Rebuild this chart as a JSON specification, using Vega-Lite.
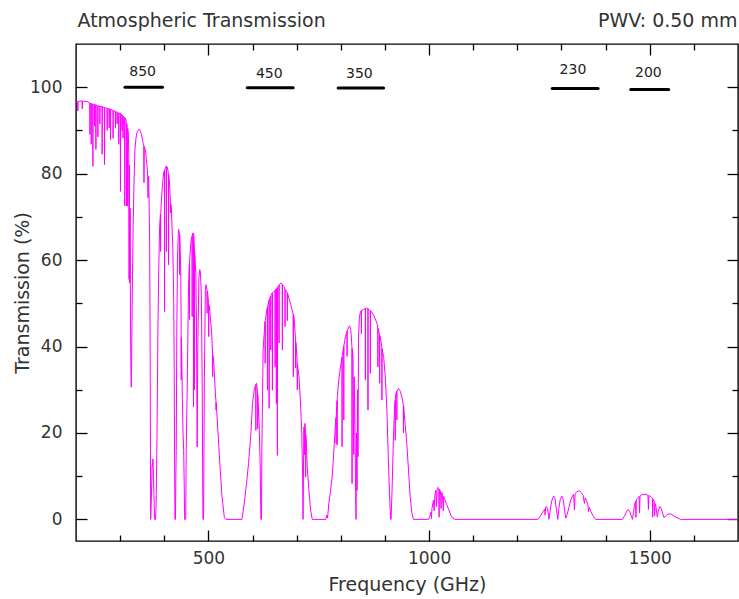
{
  "$schema": "https://vega.github.io/schema/vega-lite/v6.json",
  "width": 662,
  "height": 497,
  "autosize": "none",
  "padding": {"left": 76, "top": 44, "right": 1, "bottom": 58},
  "background": "white",
  "config": {
    "view": {"stroke": "#000", "strokeWidth": 1.4},
    "axis": {
      "domain": false, "grid": false,
      "labelFont": "DejaVu Sans", "labelFontSize": 17, "labelColor": "#333",
      "titleFont": "DejaVu Sans", "titleFontSize": 19, "titleFontWeight": "normal", "titleColor": "#333",
      "tickColor": "#000", "tickWidth": 1.3
    }
  },
  "datasets": {
    "spec": [
      {"f":200,"t":96.5},{"f":203,"t":96.7},{"f":203.8,"t":96.7},{"f":204.2,"t":94.5},{"f":204.6,"t":96.7},{"f":209,"t":96.8},
      {"f":213.6,"t":96.8},{"f":214.2,"t":95.0},{"f":214.8,"t":96.8},{"f":225,"t":96.7},
      {"f":231.2,"t":96.3},{"f":231.6,"t":89.1},{"f":232,"t":96.3},
      {"f":234.1,"t":96.2},{"f":234.5,"t":86.8},{"f":234.9,"t":96.2},
      {"f":237.9,"t":96.1},{"f":238.3,"t":81.7},{"f":238.7,"t":96.1},
      {"f":241.8,"t":96.0},{"f":242.2,"t":91.0},{"f":242.6,"t":96.0},
      {"f":244.7,"t":95.9},{"f":245.1,"t":85.6},{"f":245.5,"t":95.9},
      {"f":249.2,"t":95.7},{"f":249.6,"t":88.5},{"f":250,"t":95.7},
      {"f":253.7,"t":95.6},{"f":254.1,"t":91.5},{"f":254.5,"t":95.6},
      {"f":258.9,"t":95.5},{"f":259.3,"t":84.5},{"f":259.7,"t":95.5},
      {"f":264.3,"t":95.3},{"f":264.7,"t":82.1},{"f":265.1,"t":95.3},
      {"f":270.2,"t":95.1},{"f":270.6,"t":90.0},{"f":271,"t":95.1},
      {"f":274.7,"t":95.0},{"f":275.1,"t":90.6},{"f":275.5,"t":95.0},
      {"f":277.9,"t":94.9},{"f":278.3,"t":87.9},{"f":278.7,"t":94.9},
      {"f":283.7,"t":94.6},{"f":284.1,"t":88.2},{"f":284.5,"t":94.6},
      {"f":289.1,"t":94.4},{"f":289.5,"t":90.5},{"f":289.9,"t":94.4},
      {"f":292.8,"t":94.2},{"f":293.2,"t":91.5},{"f":293.6,"t":94.2},
      {"f":296.6,"t":94.0},{"f":297,"t":86.8},{"f":297.4,"t":94.0},
      {"f":300.4,"t":93.9},{"f":300.8,"t":75.9},{"f":301.2,"t":93.9},
      {"f":304,"t":93.6},{"f":304.4,"t":90.0},{"f":304.8,"t":93.6},
      {"f":306.3,"t":93.3},{"f":306.7,"t":88.2},{"f":307.1,"t":93.3},
      {"f":310,"t":93.0},{"f":310.5,"t":72.5},{"f":311,"t":92.9},{"f":312.1,"t":92.8},
      {"f":314,"t":92.0},{"f":314.4,"t":72.5},{"f":314.8,"t":91.6},{"f":316,"t":91.2},
      {"f":316.6,"t":72.5},{"f":317.2,"t":90.5},{"f":318.5,"t":89.5},{"f":319.5,"t":85.0},
      {"f":320.3,"t":55.5},{"f":321,"t":82.0},{"f":321.8,"t":54.7},{"f":322.6,"t":72.0},
      {"f":323.5,"t":45.0},{"f":324.3,"t":36.0},{"f":325.2,"t":30.6},{"f":326,"t":36.0},
      {"f":327.5,"t":52.0},{"f":329.5,"t":68.0},{"f":331.5,"t":78.0},{"f":333.5,"t":85.5},
      {"f":336,"t":88.3},{"f":339,"t":89.8},{"f":343,"t":90.3},{"f":346,"t":89.8},
      {"f":348.2,"t":89.1},{"f":351.8,"t":87.2},{"f":353.6,"t":86.5},{"f":354.1,"t":77.9},
      {"f":354.6,"t":86.3},{"f":357.2,"t":85.6},{"f":359.5,"t":83.3},{"f":361.7,"t":81.0},
      {"f":362.6,"t":79.0},{"f":363.1,"t":74.4},{"f":363.6,"t":79.5},{"f":364.7,"t":79.4},
      {"f":365.8,"t":72.0},{"f":366.9,"t":64.0},{"f":368,"t":40.0},{"f":369.2,"t":0},
      {"f":370.5,"t":4},{"f":372.5,"t":12},{"f":374.5,"t":14},{"f":376.5,"t":6},
      {"f":378.2,"t":0},{"f":380.2,"t":0},{"f":381.5,"t":3},{"f":383.4,"t":18.3},
      {"f":384.5,"t":30},{"f":385.6,"t":43.8},{"f":387.5,"t":58},{"f":389.5,"t":67.8},
      {"f":391.3,"t":70.5},{"f":391.7,"t":62},{"f":392.1,"t":71},{"f":393.3,"t":73.3},
      {"f":395,"t":76},{"f":396.9,"t":78.6},{"f":398.8,"t":80.2},{"f":400.4,"t":80.8},
      {"f":400.7,"t":48.1},{"f":401,"t":80.9},{"f":402.5,"t":81.3},{"f":404.6,"t":81.7},
      {"f":404.9,"t":62},{"f":405.2,"t":81.7},{"f":407,"t":81.5},{"f":409.5,"t":80.0},
      {"f":409.8,"t":58.9},{"f":410.1,"t":79.8},{"f":412,"t":77.5},{"f":414,"t":73.5},
      {"f":414.3,"t":70.9},{"f":414.6,"t":73},{"f":415.9,"t":72.5},{"f":417.5,"t":68},
      {"f":419.5,"t":62.4},{"f":421.5,"t":50},{"f":422.5,"t":35},{"f":423.3,"t":15},
      {"f":424.2,"t":0},{"f":425.3,"t":0},{"f":426.2,"t":10},{"f":427.1,"t":16},
      {"f":428.5,"t":45},{"f":430,"t":60},{"f":431.5,"t":65.5},{"f":432.5,"t":67.1},
      {"f":434.2,"t":66.2},{"f":434.6,"t":56.6},{"f":435,"t":65.8},{"f":436.5,"t":60.5},
      {"f":437.5,"t":56.2},{"f":438.2,"t":45},{"f":438.4,"t":32.3},{"f":438.8,"t":42},
      {"f":439.4,"t":39.2},{"f":441,"t":28},{"f":442.5,"t":20},{"f":444,"t":16},
      {"f":445.2,"t":8},{"f":446.2,"t":0},{"f":448.6,"t":0},{"f":449.7,"t":16},
      {"f":452,"t":30.7},{"f":455,"t":53.9},{"f":456.8,"t":59},{"f":457.1,"t":46.2},
      {"f":457.4,"t":59.5},{"f":458.5,"t":61.6},{"f":461,"t":64.7},{"f":462.9,"t":65.5},
      {"f":463.2,"t":46.9},{"f":463.5,"t":65.6},{"f":464.6,"t":66.3},{"f":466,"t":66.1},
      {"f":466.2,"t":26},{"f":466.5,"t":66},{"f":468.2,"t":63},{"f":468.5,"t":30},
      {"f":468.8,"t":62},{"f":471.5,"t":57},{"f":473,"t":45},{"f":474.5,"t":16.8},
      {"f":476,"t":40},{"f":478.5,"t":56},{"f":480.5,"t":57.8},{"f":482,"t":57},
      {"f":484,"t":52},{"f":486,"t":30.7},{"f":487,"t":10},{"f":487.6,"t":0},
      {"f":489,"t":0},{"f":490.9,"t":33},{"f":493.2,"t":53.9},{"f":494.8,"t":54.3},
      {"f":496.8,"t":53},{"f":497.1,"t":47.7},{"f":497.4,"t":52.8},{"f":498.4,"t":52.4},
      {"f":500.4,"t":50},{"f":500.7,"t":42.3},{"f":501,"t":49.6},{"f":502.2,"t":49.3},
      {"f":507.4,"t":43.1},{"f":509.4,"t":38.5},{"f":509.7,"t":33},{"f":510,"t":38},
      {"f":511.9,"t":36.9},{"f":515.8,"t":29.2},{"f":517.1,"t":27.5},{"f":517.4,"t":25.3},
      {"f":517.7,"t":27},{"f":521,"t":21.4},{"f":526.4,"t":12.1},{"f":530.9,"t":5.2},
      {"f":536.1,"t":0.5},{"f":539.9,"t":0},{"f":576,"t":0},{"f":581.2,"t":3.6},
      {"f":586.4,"t":8.3},{"f":590.9,"t":12.9},{"f":596.3,"t":19.9},{"f":599.9,"t":26.8},
      {"f":603.8,"t":29.9},{"f":607.3,"t":31.2},{"f":607.6,"t":20.6},{"f":607.9,"t":31.3},
      {"f":609,"t":31.5},{"f":611.3,"t":29.5},{"f":611.6,"t":21},{"f":611.9,"t":28.8},
      {"f":612.8,"t":26.8},{"f":615,"t":22},{"f":617.3,"t":13},{"f":618.9,"t":0},
      {"f":620.3,"t":0},{"f":621.1,"t":16},{"f":624,"t":39.2},{"f":627.9,"t":45.4},
      {"f":628.4,"t":45.8},{"f":628.6,"t":36.1},{"f":628.9,"t":46},{"f":632.4,"t":48.5},
      {"f":633.5,"t":49},{"f":633.8,"t":29.9},{"f":634.1,"t":49.1},{"f":637.3,"t":50.7},
      {"f":637.6,"t":25.7},{"f":637.9,"t":50.8},{"f":641.1,"t":51.7},{"f":641.4,"t":39.2},
      {"f":641.7,"t":51.8},{"f":644.7,"t":52.4},{"f":645,"t":29.9},{"f":645.3,"t":52.4},
      {"f":650.8,"t":53.0},{"f":651.1,"t":35.3},{"f":651.4,"t":53.0},{"f":652.7,"t":53.1},
      {"f":653.7,"t":53.3},{"f":654,"t":26.8},{"f":654.3,"t":53.4},{"f":656,"t":53.6},
      {"f":656.3,"t":14.8},{"f":656.6,"t":53.7},{"f":659.8,"t":54.2},{"f":660.1,"t":40.8},
      {"f":660.4,"t":54.3},{"f":664,"t":54.7},{"f":667.3,"t":54.4},{"f":667.6,"t":39.2},
      {"f":667.9,"t":54.3},{"f":671.4,"t":53.9},{"f":673.4,"t":53.3},{"f":673.7,"t":44.6},
      {"f":674,"t":53.2},{"f":678.6,"t":52.5},{"f":678.9,"t":46},{"f":679.2,"t":52.4},
      {"f":686.5,"t":49.7},{"f":692.1,"t":47.5},{"f":692.4,"t":33},{"f":692.7,"t":47.4},
      {"f":694,"t":46.9},{"f":697.5,"t":41.5},{"f":697.8,"t":35},{"f":698.1,"t":41},
      {"f":699.2,"t":40},{"f":701.1,"t":37},{"f":701.4,"t":30},{"f":701.7,"t":36},
      {"f":705.3,"t":33},{"f":709.1,"t":26},{"f":711.5,"t":20},{"f":713.5,"t":10},
      {"f":714.5,"t":0},{"f":715.5,"t":12},{"f":716.5,"t":21.4},{"f":717.5,"t":15},
      {"f":718.3,"t":22},{"f":718.8,"t":22.2},{"f":720.1,"t":20},{"f":720.4,"t":9.8},
      {"f":720.7,"t":19.5},{"f":721.7,"t":18.3},{"f":724,"t":12.1},{"f":727.8,"t":6.7},
      {"f":731.6,"t":2.1},{"f":735.3,"t":0},{"f":766,"t":0},{"f":768.4,"t":1},
      {"f":770,"t":0.3},{"f":772.9,"t":3.7},{"f":776.5,"t":6.5},{"f":780.4,"t":9.8},
      {"f":784,"t":15.5},{"f":788,"t":22.2},{"f":789.1,"t":23.5},{"f":789.4,"t":17.6},
      {"f":789.7,"t":24},{"f":791.5,"t":27.5},{"f":791.7,"t":17.2},{"f":791.9,"t":28},
      {"f":795.5,"t":32.3},{"f":799,"t":35},{"f":802.6,"t":37.5},{"f":802.9,"t":16.8},
      {"f":803.2,"t":37.9},{"f":806.5,"t":40.0},{"f":806.8,"t":23},{"f":807.1,"t":40.3},
      {"f":810.6,"t":42.3},{"f":813.9,"t":43.5},{"f":814.2,"t":37.7},{"f":814.5,"t":43.6},
      {"f":819.6,"t":44.8},{"f":822.5,"t":44},{"f":825.2,"t":40},{"f":825.5,"t":8.3},
      {"f":825.8,"t":39.5},{"f":827.7,"t":37.7},{"f":829.3,"t":15},{"f":830.5,"t":33},
      {"f":832,"t":22},{"f":833.2,"t":10},{"f":834.5,"t":0},{"f":835.5,"t":20},
      {"f":836.8,"t":6.7},{"f":837.8,"t":30},{"f":839,"t":14.5},{"f":840.2,"t":42},
      {"f":842,"t":46.5},{"f":844.4,"t":48.1},{"f":846.4,"t":48.3},{"f":846.7,"t":43},
      {"f":847,"t":48.3},{"f":851.9,"t":48.6},{"f":855.4,"t":48.8},{"f":855.7,"t":32.3},
      {"f":856,"t":48.8},{"f":859.3,"t":48.9},{"f":861.3,"t":48.8},{"f":861.6,"t":25.3},
      {"f":861.9,"t":48.7},{"f":866.7,"t":48.3},{"f":867,"t":33.8},{"f":867.3,"t":48.3},
      {"f":874.4,"t":47.3},{"f":881.9,"t":45.4},{"f":883.8,"t":44.3},{"f":884.1,"t":35.3},
      {"f":884.4,"t":44.2},{"f":887.7,"t":42.8},{"f":888,"t":31.5},{"f":888.3,"t":42.6},
      {"f":889.5,"t":42.3},{"f":892.9,"t":39.8},{"f":893.2,"t":27.6},{"f":893.5,"t":39.5},
      {"f":897,"t":37.7},{"f":900.8,"t":33},{"f":904.4,"t":25.3},{"f":907.5,"t":15},
      {"f":910,"t":7},{"f":912.8,"t":0},{"f":914,"t":0},{"f":916.5,"t":8},
      {"f":919,"t":18},{"f":921.5,"t":25},{"f":923.1,"t":27.5},{"f":923.4,"t":18.3},
      {"f":923.7,"t":28},{"f":924.7,"t":29.2},{"f":926.7,"t":29.6},{"f":927,"t":23},
      {"f":927.3,"t":29.7},{"f":930.8,"t":30.3},{"f":934,"t":29.8},{"f":938.3,"t":28.4},
      {"f":941.7,"t":26.5},{"f":942,"t":20},{"f":942.3,"t":26.2},{"f":944.4,"t":23.7},
      {"f":949.5,"t":17.6},{"f":953.4,"t":11.4},{"f":957.2,"t":5.2},{"f":961,"t":1.5},
      {"f":964.7,"t":0},{"f":998.5,"t":0},{"f":1002,"t":0.8},{"f":1004.6,"t":1.7},
      {"f":1005.5,"t":0.2},{"f":1006.5,"t":2.5},{"f":1009.8,"t":4.4},{"f":1011.5,"t":2},
      {"f":1013,"t":5.5},{"f":1015,"t":6.7},{"f":1017,"t":3},{"f":1018,"t":7},
      {"f":1019.5,"t":7.4},{"f":1022,"t":7.2},{"f":1022.7,"t":0.5},{"f":1023.5,"t":7},
      {"f":1026,"t":6.5},{"f":1027.2,"t":2.5},{"f":1028,"t":6.3},{"f":1030.1,"t":6},
      {"f":1032.3,"t":2},{"f":1033,"t":5.3},{"f":1036.2,"t":4.4},{"f":1043.6,"t":2.5},
      {"f":1051.1,"t":0.5},{"f":1058.7,"t":0},{"f":1246.6,"t":0},{"f":1252,"t":0.7},
      {"f":1258,"t":1.8},{"f":1262,"t":2.4},{"f":1263,"t":1},{"f":1264,"t":2.8},
      {"f":1265.4,"t":3.0},{"f":1268,"t":2.5},{"f":1270,"t":1.5},{"f":1271.4,"t":0},
      {"f":1273.5,"t":1.5},{"f":1277,"t":3.8},{"f":1280,"t":5},{"f":1282.7,"t":5.4},
      {"f":1285,"t":5},{"f":1287,"t":3.5},{"f":1289,"t":2},{"f":1291.7,"t":0},
      {"f":1294,"t":2.5},{"f":1297,"t":4.5},{"f":1300.7,"t":5.4},{"f":1303,"t":5.0},
      {"f":1305.5,"t":3.5},{"f":1308,"t":1.5},{"f":1309.8,"t":0.3},{"f":1313,"t":1.2},
      {"f":1317,"t":2.8},{"f":1321,"t":4.5},{"f":1325,"t":5.4},{"f":1327.5,"t":5.8},
      {"f":1329.4,"t":2.2},{"f":1331,"t":6.0},{"f":1335,"t":6.4},{"f":1340.7,"t":6.6},
      {"f":1345,"t":6.2},{"f":1349,"t":5.6},{"f":1352,"t":3.7},{"f":1354,"t":5.0},
      {"f":1357,"t":4.3},{"f":1360,"t":3.3},{"f":1361.5,"t":1.8},{"f":1363,"t":2.8},
      {"f":1367,"t":1.8},{"f":1371,"t":0.9},{"f":1375,"t":0.3},{"f":1378,"t":0},
      {"f":1438,"t":0},{"f":1443,"t":0.8},{"f":1447,"t":1.7},{"f":1451.2,"t":2.3},
      {"f":1455,"t":1.8},{"f":1458,"t":0.8},{"f":1460.9,"t":0},{"f":1463,"t":1.5},
      {"f":1466,"t":3.5},{"f":1468,"t":4.2},{"f":1468.8,"t":0.5},{"f":1469.6,"t":4.5},
      {"f":1472,"t":4.9},{"f":1476,"t":5.3},{"f":1477,"t":1.5},{"f":1478,"t":5.4},
      {"f":1482,"t":5.7},{"f":1487.3,"t":5.8},{"f":1492,"t":5.8},{"f":1496,"t":5.6},
      {"f":1497,"t":2.3},{"f":1498,"t":5.5},{"f":1502,"t":5.3},{"f":1506,"t":4.9},
      {"f":1506.8,"t":0.5},{"f":1507.6,"t":4.7},{"f":1510,"t":4.2},{"f":1511,"t":0.8},
      {"f":1512,"t":3.7},{"f":1514,"t":3},{"f":1517,"t":0.6},{"f":1520,"t":2.2},
      {"f":1523.4,"t":3},{"f":1526,"t":2.5},{"f":1529,"t":1.5},{"f":1532.4,"t":0.4},
      {"f":1536,"t":0.8},{"f":1541,"t":1.2},{"f":1547.3,"t":1.3},{"f":1552,"t":1.0},
      {"f":1558,"t":0.6},{"f":1564,"t":0.3},{"f":1570,"t":0},{"f":1700,"t":0}
    ],
    "bands": [
      {"x1":311,"x2":396,"y":100.0,"lab":"850","lx":351,"ly":103.6,"grp":1},
      {"x1":588,"x2":692,"y":99.9,"lab":"450","lx":638,"ly":103.0,"grp":1},
      {"x1":794,"x2":897,"y":99.8,"lab":"350","lx":842,"ly":103.0,"grp":1},
      {"x1":1279,"x2":1383,"y":99.7,"lab":"230","lx":1326,"ly":104.0,"grp":2},
      {"x1":1457,"x2":1543,"y":99.5,"lab":"200","lx":1497,"ly":103.3,"grp":2}
    ]
  },
  "layer": [
    {
      "data": {"name": "spec"},
      "mark": {"type": "line", "color": "#ff00ff", "strokeWidth": 1, "clip": true},
      "encoding": {
        "x": {"field": "f", "type": "quantitative",
          "scale": {"domain": [200, 1700], "nice": false, "zero": false},
          "axis": {"orient": "bottom", "values": [500, 1000, 1500], "format": "d", "tickSize": 11, "offset": -11,
            "labelPadding": 9, "title": "Frequency (GHz)", "titleBaseline": "alphabetic", "titleY": 60}},
        "y": {"field": "t", "type": "quantitative",
          "scale": {"domain": [-5, 110], "nice": false, "zero": false},
          "axis": {"orient": "left", "values": [0, 20, 40, 60, 80, 100], "tickSize": 11, "offset": -11,
            "labelPadding": 14, "title": "Transmission (%)", "titleBaseline": "alphabetic", "titleX": -59}}
      }
    },
    {
      "data": {"name": "bands"},
      "mark": {"type": "rule", "color": "#000", "strokeWidth": 3, "strokeCap": "round"},
      "encoding": {
        "x": {"field": "x1", "type": "quantitative",
          "scale": {"domain": [200, 1700], "nice": false, "zero": false},
          "axis": {"orient": "bottom", "values": [300, 400, 600, 700, 800, 900, 1100, 1200, 1300, 1400, 1600],
            "tickSize": 6, "offset": -6, "labels": false, "title": null}},
        "x2": {"field": "x2"},
        "y": {"field": "y", "type": "quantitative",
          "scale": {"domain": [-5, 110], "nice": false, "zero": false},
          "axis": {"orient": "left", "values": [10, 30, 50, 70, 90], "tickSize": 6, "offset": -6,
            "labels": false, "title": null}}
      }
    },
    {
      "data": {"name": "bands"},
      "transform": [{"filter": "datum.grp == 1"}],
      "mark": {"type": "text", "font": "DejaVu Sans", "fontSize": 14, "color": "#222", "baseline": "middle", "align": "center"},
      "encoding": {
        "x": {"field": "lx", "type": "quantitative",
          "scale": {"domain": [200, 1700], "nice": false, "zero": false},
          "axis": {"orient": "top", "values": [500, 1000, 1500], "tickSize": 11, "offset": -11, "labels": false,
            "title": "Atmospheric Transmission", "titleAnchor": "start", "titleAlign": "left",
            "titleBaseline": "alphabetic", "titleX": 1, "titleY": -29}},
        "y": {"field": "ly", "type": "quantitative",
          "scale": {"domain": [-5, 110], "nice": false, "zero": false},
          "axis": {"orient": "right", "values": [0, 20, 40, 60, 80, 100], "tickSize": 11, "offset": -11,
            "labels": false, "title": null}},
        "text": {"field": "lab"}
      }
    },
    {
      "data": {"name": "bands"},
      "transform": [{"filter": "datum.grp == 2"}],
      "mark": {"type": "text", "font": "DejaVu Sans", "fontSize": 14, "color": "#222", "baseline": "middle", "align": "center"},
      "encoding": {
        "x": {"field": "lx", "type": "quantitative",
          "scale": {"domain": [200, 1700], "nice": false, "zero": false},
          "axis": {"orient": "top", "values": [300, 400, 600, 700, 800, 900, 1100, 1200, 1300, 1400, 1600],
            "tickSize": 6, "offset": -6, "labels": false,
            "title": "PWV: 0.50 mm", "titleAnchor": "end", "titleAlign": "right",
            "titleBaseline": "alphabetic", "titleX": 661, "titleY": -24}},
        "y": {"field": "ly", "type": "quantitative",
          "scale": {"domain": [-5, 110], "nice": false, "zero": false},
          "axis": {"orient": "right", "values": [10, 30, 50, 70, 90], "tickSize": 6, "offset": -6,
            "labels": false, "title": null}},
        "text": {"field": "lab"}
      }
    }
  ],
  "resolve": {"axis": {"x": "independent", "y": "independent"}}
}
